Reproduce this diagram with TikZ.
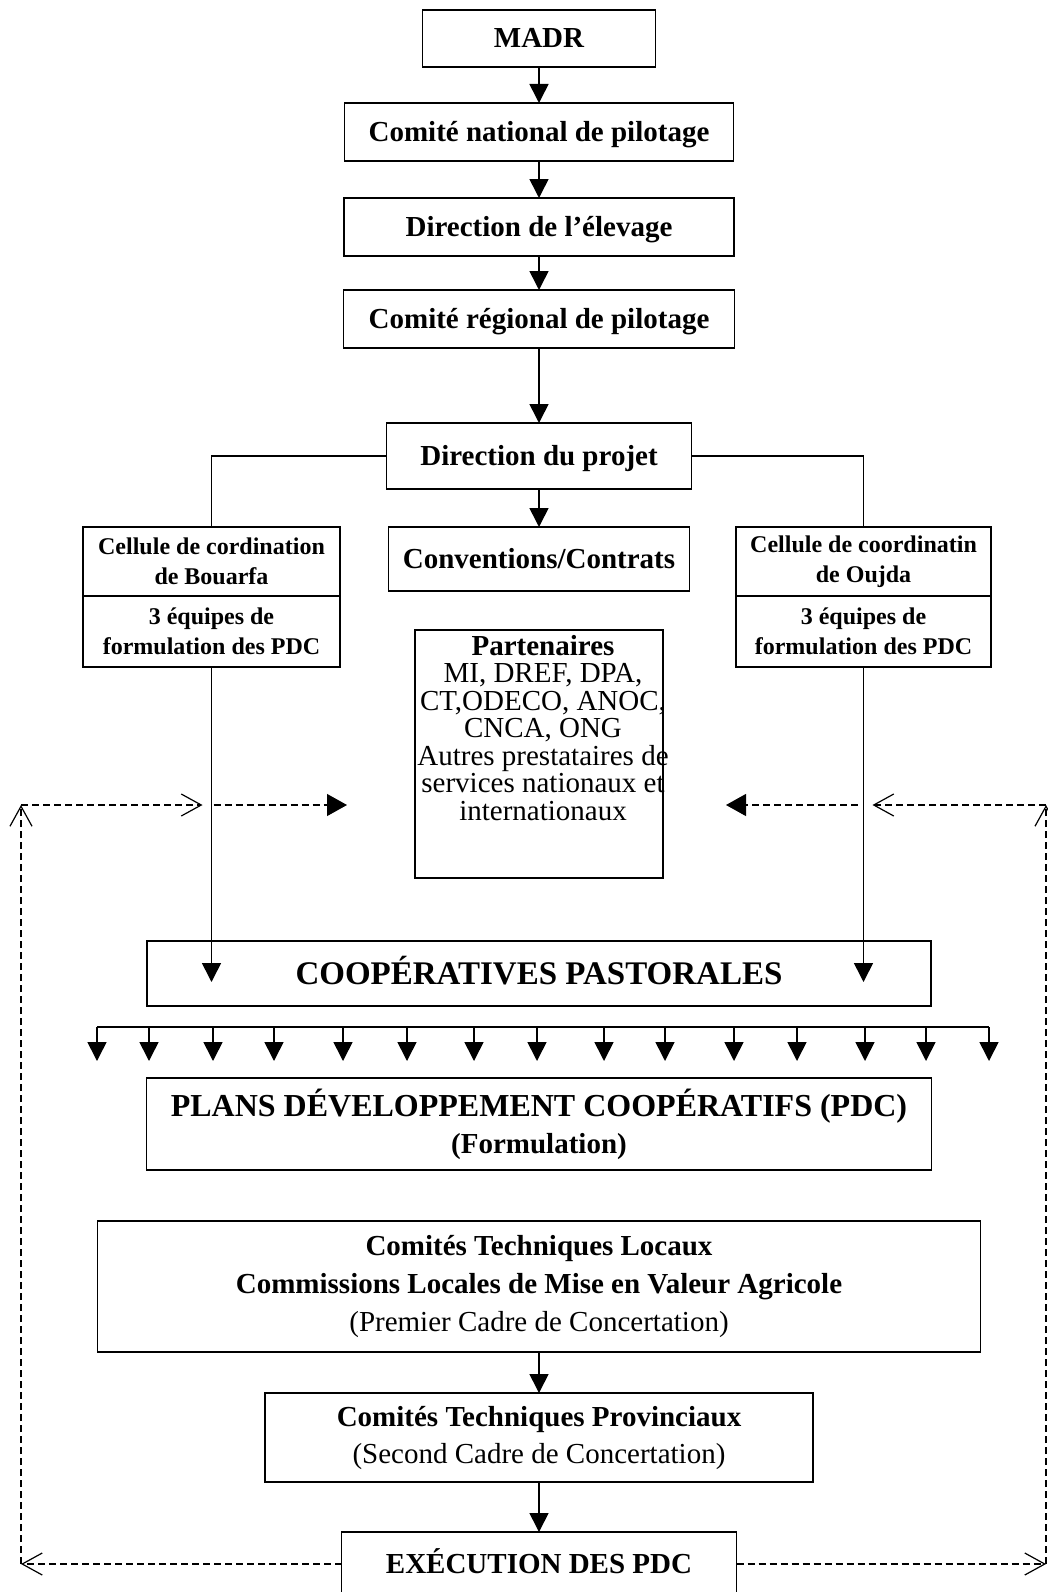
\documentclass[tikz,border=0pt]{standalone}
\usepackage{fontspec}
\setmainfont{Liberation Serif}
\usetikzlibrary{
  arrows.meta,
  calc,
  positioning,
}
\tikzstyle{arrow} = [
  -{Triangle[length=19pt,width=19pt]},
  line width=1.6pt,
]
\tikzstyle{dasharrow} = [
  -{Straight Barb[length=20pt,width=22pt,line width=1.2pt]},
  line width=1.2pt,
  dash pattern=on 7pt off 4pt,
]
\tikzstyle{dashfill} = [
  -{Triangle[length=20pt,width=22pt]},
  line width=1.2pt,
  dash pattern=on 7pt off 4pt,
]

\begin{document}
\begin{tikzpicture}[
    x=1pt, y=-1pt,
    box/.style={draw, rectangle, line width=1.8pt, inner sep=0pt, outer sep=0pt, align=center, font=\fontsize{29}{38}\selectfont\bfseries},
    oneline/.style={box, text height=19pt, text depth=0pt},
    cellbox/.style={box, minimum width=257pt, font=\fontsize{24}{30.5}\selectfont\bfseries},
  ]
  \useasboundingbox (0,0) rectangle (1048,1592);
  \clip (0,0) rectangle (1048,1592);
  \node [oneline, minimum width=233pt, minimum height=57pt] (madr) at (539,38.5) {MADR};
  \node [oneline, below=36pt of madr, minimum width=389pt, minimum height=58pt] (natcom) {Comité national de pilotage};
  \node [oneline, below=37pt of natcom, minimum width=390pt, minimum height=58pt] (breeding) {Direction de l'élevage};
  \node [oneline, below=34pt of breeding, minimum width=391pt, minimum height=58pt] (regcom) {Comité régional de pilotage};
  \node [oneline, below=75pt of regcom, minimum width=305pt, minimum height=66pt] (project) {Direction du projet};
  \node [oneline, below=38pt of project, minimum width=301pt, minimum height=64pt] (contracts) {Conventions/Contrats};
  \node [box, below=39pt of contracts, minimum width=248pt, minimum height=248pt] (partners) {};
  \node [inner sep=0pt, align=center, font=\fontsize{29}{27.5}\selectfont, below=5pt of partners.north, xshift=4pt] (partnerlist) {\textbf{Partenaires}\\MI, DREF, DPA,\\CT,ODECO, ANOC,\\CNCA, ONG\\Autres prestataires de\\services nationaux et\\internationaux};
  \node [oneline, text height=22pt, below=63pt of partners, minimum width=784pt, minimum height=65pt, font=\fontsize{33}{38}\selectfont\bfseries] (coop) {COOPÉRATIVES PASTORALES};
  \node [box, below=72pt of coop, minimum width=785pt, minimum height=92pt, font=\fontsize{32}{37}\selectfont\bfseries] (pdc) {PLANS DÉVELOPPEMENT COOPÉRATIFS (PDC)\\{\fontsize{29}{37}\selectfont (Formulation)}};
  \node [box, below=51pt of pdc, minimum width=883pt, minimum height=131pt] (localcom) {Comités Techniques Locaux\\Commissions Locales de Mise en Valeur Agricole\\{\mdseries (Premier Cadre de Concertation)}};
  \node [box, below=41pt of localcom, minimum width=548pt, minimum height=89pt, font=\fontsize{29}{37}\selectfont\bfseries] (provcom) {Comités Techniques Provinciaux\\{\mdseries (Second Cadre de Concertation)}};
  \node [oneline, below=50pt of provcom, minimum width=395pt, minimum height=64pt] (execution) {EXÉCUTION DES PDC};
  \node [cellbox, minimum height=69pt] (bouarfa) at (211.5,561.5) {Cellule de cordination\\de Bouarfa};
  \node [cellbox, minimum height=71pt, below=0pt of bouarfa] (bouarfateams) {3 équipes de\\formulation des PDC};
  \node [cellbox, minimum width=255pt, minimum height=69pt] (oujda) at (863.5,561.5) {Cellule de coordinatin\\de Oujda};
  \node [cellbox, minimum width=255pt, minimum height=71pt, below=0pt of oujda] (oujdateams) {3 équipes de\\formulation des PDC};
  \draw [arrow] (madr) -- (natcom);
  \draw [arrow] (natcom) -- (breeding);
  \draw [arrow] (breeding) -- (regcom);
  \draw [arrow] (regcom) -- (project);
  \draw [arrow] (project) -- (contracts);
  \draw [line width=1.6pt] (project.west) -| (bouarfa.north);
  \draw [line width=1.6pt] (project.east) -| (oujda.north);
  \draw [arrow] (bouarfateams.south) -- ($(bouarfateams.south |- coop.south)+(0,-24)$);
  \draw [arrow] (oujdateams.south) -- ($(oujdateams.south |- coop.south)+(0,-24)$);
  \coordinate (fanleft) at (97,1027);
  \coordinate (fanright) at (989,1027);
  \draw [line width=1.6pt] (fanleft) -- (fanright);
  \foreach \fx in {97,149,213,274,343,407,474,537,604,665,734,797,865,926,989} {
    \coordinate (fantip) at (\fx,1061);
    \draw [arrow] (fantip |- fanleft) -- (fantip);
  }
  \draw [arrow] (pdc.south |- localcom.south) -- (provcom);
  \draw [arrow] (provcom) -- (execution);
  \coordinate (loopleft) at (21,805);
  \coordinate (loopright) at (1046,805);
  \coordinate (partnersin) at (347,805);
  \coordinate (partnersout) at (726,805);
  \draw [dasharrow] (execution.west) -- (execution.west -| loopleft);
  \draw [dasharrow] (execution.west -| loopleft) -- (loopleft);
  \draw [dasharrow, shorten >=9pt] (loopleft) -- (loopleft -| bouarfateams.south);
  \draw [dashfill, shorten <=2pt] (loopleft -| bouarfateams.south) -- (partnersin);
  \draw [dasharrow] (execution.east) -- (execution.east -| loopright);
  \draw [dasharrow] (execution.east -| loopright) -- (loopright);
  \draw [dasharrow, shorten >=9pt] (loopright) -- (loopright -| oujdateams.south);
  \draw [dashfill, shorten <=6pt] (loopright -| oujdateams.south) -- (partnersout);
\end{tikzpicture}
\end{document}
